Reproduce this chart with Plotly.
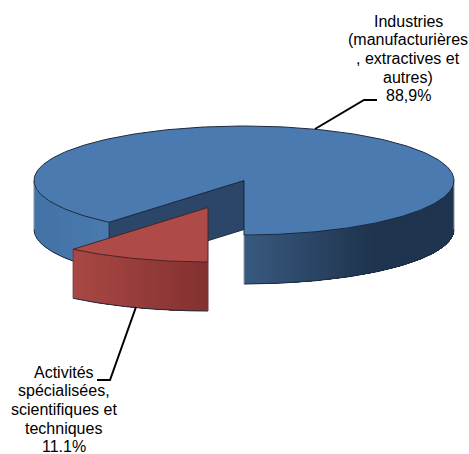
import numpy as np
import plotly.graph_objects as go

# ---- data ----
categories = ["Activités spécialisées, scientifiques et techniques",
              "Industries (manufacturières, extractives et autres)"]
values = [11.1, 88.9]
label_industries = ["Industries", "(manufacturières", ", extractives et", "autres)", "88,9%"]
label_activites = ["Activités", "spécialisées,", "scientifiques et", "techniques", "11.1%"]

# ---- 3D projection settings (pixels of the 469x454 canvas) ----
CX, CY, RX, RY, DEPTH = 244.0, 180.5, 210.0, 54.5, 49.0
EXPLODE = (-36.0, 27.0)
EDGE = "#1d2b40"

BLUE_TOP = "#4a7aaf"
RED_TOP = "#ae4a47"


def pt(theta, off=(0.0, 0.0), dy=0.0):
    """theta in degrees, clockwise from the front (6 o'clock)."""
    t = np.radians(theta)
    return (CX + off[0] - RX * np.sin(t), CY + off[1] + RY * np.cos(t) + dy)


def arc(a, b, off=(0.0, 0.0), dy=0.0, n=120):
    th = np.linspace(a, b, n)
    xs, ys = pt(th, off, dy)
    return list(xs), list(ys)


def lerp(c1, c2, f):
    a = [int(c1[i:i + 2], 16) for i in (1, 3, 5)]
    b = [int(c2[i:i + 2], 16) for i in (1, 3, 5)]
    return "#" + "".join(f"{round(p + (q - p) * f):02x}" for p, q in zip(a, b))


fig = go.Figure()


def poly(xs, ys, fill=None, line=None, width=1.0):
    fig.add_trace(go.Scatter(
        x=list(xs), y=list(ys), mode="lines",
        fill="toself" if fill else "none", fillcolor=fill,
        line=dict(color=line or "rgba(0,0,0,0)", width=width if line else 0),
        hoverinfo="skip", showlegend=False))


def wall(left, right, off, color_at, steps):
    """Side wall from theta=left (screen-left) to theta=right; painted left to
    right, each band running to the wall's end so no seams appear."""
    sl = np.sin(np.radians(left))
    sr = np.sin(np.radians(right))
    for s in np.linspace(sl, sr, steps, endpoint=False):
        a = np.degrees(np.arcsin(s))
        a = a if left < 180 else (360 + a)
        tx, ty = arc(a, right, off, n=60)
        bx, by = arc(right, a, off, DEPTH, n=60)
        poly(tx + bx + tx[:1], ty + by + ty[:1], fill=color_at(tx[0]))
    bx, by = arc(left, right, off, DEPTH, n=120)
    poly(bx, by, line=EDGE, width=1)


# slice angles derived from the values
total = sum(values)
red_end = 360.0 * values[0] / total


def blue_left(x):
    f = (x - 34) / (110 - 34)
    return lerp("#4272a6", "#4a7aaf", min(max(f, 0), 1))


def blue_right(x):
    f = (x - 244) / (370 - 244)
    return lerp("#38597f", "#1f344e", min(max(f, 0), 1))


def red_side(x):
    f = (x - 73) / (208 - 73)
    return lerp("#a94744", "#82312f", min(max(f, 0), 1))


# --- blue pie ---
wall(90, red_end, (0, 0), blue_left, 12)
wall(360, 270, (0, 0), blue_right, 50)

# outer vertical silhouettes
for th in (90, 270):
    x0, y0 = pt(th)
    poly([x0, x0], [y0, y0 + DEPTH], line="#8a97a8", width=1)

# inner cut wall
ax, ay = pt(red_end)
poly([ax, CX, CX, ax, ax], [ay, CY, CY + DEPTH, ay + DEPTH, ay],
     fill="#2b4669", line=EDGE, width=1)

# vertical edge at the front cut
x0, y0 = pt(360)
poly([x0, x0], [y0, y0 + DEPTH], line="#9aa3ad", width=1)

# top face
tx, ty = arc(red_end, 360, n=300)
poly([CX] + tx + [CX], [CY] + ty + [CY], fill=BLUE_TOP, line=EDGE, width=1)

# --- red exploded slice ---
wall(red_end, 0, EXPLODE, red_side, 30)
x1, y1 = pt(red_end, EXPLODE)
x2, y2 = pt(0, EXPLODE)
poly([x1, x1], [y1, y1 + DEPTH], line="#6a3a3a", width=1)
poly([x2, x2], [y2, y2 + DEPTH], line="#6a3a3a", width=1)
tx, ty = arc(0, red_end, EXPLODE, n=60)
cx2, cy2 = CX + EXPLODE[0], CY + EXPLODE[1]
poly([cx2] + tx + [cx2], [cy2] + ty + [cy2], fill=RED_TOP, line="#4a2525", width=1)

# --- leader lines ---
poly([315, 364, 377], [129, 100, 100], line="#000000", width=2)
poly([136, 110, 97], [307, 380, 380], line="#000000", width=2)

# --- labels, one line at a time for the reference's tight leading ---
FONT = dict(family="Liberation Sans, Arial, sans-serif", size=16, color="#000000")
LEADING = 18.7


def label(lines, xc, y_first):
    for i, s in enumerate(lines):
        fig.add_annotation(x=xc, y=y_first + i * LEADING, xref="x", yref="y", text=s,
                           showarrow=False, font=FONT, align="center",
                           xanchor="center", yanchor="middle", borderpad=0, borderwidth=0)


label(label_industries, 408, 21)
label(label_activites, 63.5, 372)

fig.update_layout(
    width=469, height=454, margin=dict(l=0, r=0, t=0, b=0),
    paper_bgcolor="#ffffff", plot_bgcolor="#ffffff", showlegend=False,
    xaxis=dict(range=[0, 469], visible=False, fixedrange=True),
    yaxis=dict(range=[454, 0], visible=False, fixedrange=True),
)
fig.write_html("out.html", include_plotlyjs=True, config={"displayModeBar": False},
               post_script="document.body.style.margin='0';document.documentElement.style.overflow='hidden';")
